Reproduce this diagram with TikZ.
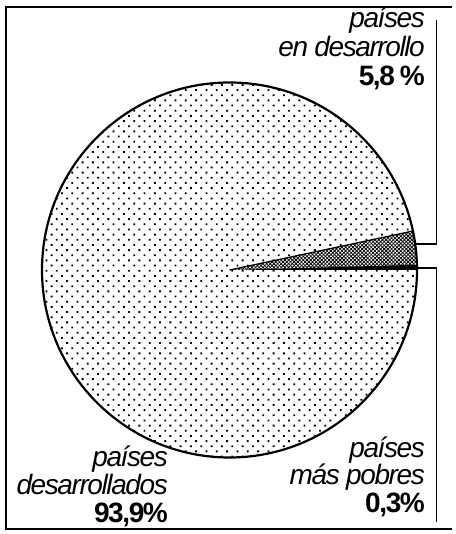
\documentclass[tikz,border=0pt]{standalone}
\usepackage{fontspec}
\setmainfont{Liberation Sans}
\newfontfamily\lblfont[LetterSpace=-5]{Liberation Sans}
\usetikzlibrary{patterns,patterns.meta}
\begin{document}
\begin{tikzpicture}[x=1pt,y=1pt,
  lbl/.style={inner sep=0pt,anchor=base east,font=\lblfont\fontsize{28}{32}\selectfont\itshape},
  pct/.style={inner sep=0pt,anchor=base east,font=\lblfont\fontsize{28}{32}\selectfont\bfseries},
  frameline/.style={line width=1.6pt},
  bracket/.style={line width=1.4pt}]
\useasboundingbox (0,0) rectangle (455,534);
% frame
\draw[frameline] (452,527) -- (6,527) -- (6,5) -- (452,5);
% pie
\coordinate (c) at (229.5,264);
\fill[white] (c) circle[radius=187.5];
\fill[pattern={Dots[radius=1.3pt,distance=7.3pt,angle=45]}] (c) circle[radius=187.5];
% cross-hatched slice
\fill[white] (c) -- ++(1.5:187.5) arc[start angle=1.5,end angle=12,radius=187.5] -- cycle;
\fill[pattern={Lines[angle=45,distance=2.6pt,line width=0.8pt]}] (c) -- ++(1.5:187.5) arc[start angle=1.5,end angle=12,radius=187.5] -- cycle;
\fill[pattern={Lines[angle=-45,distance=2.6pt,line width=0.8pt]}] (c) -- ++(1.5:187.5) arc[start angle=1.5,end angle=12,radius=187.5] -- cycle;
\draw[line width=1.2pt] (c) -- ++(12:187.5);
% black slice
\fill[black] (c) -- ++(0:187.5) arc[start angle=0,end angle=1.6,radius=187.5] -- cycle;
\draw[line width=2.2pt] (c) circle[radius=187.5];
% brackets
\coordinate (ua) at (415.5,290);
\coordinate (ub) at (436.5,290);
\coordinate (uc) at (436.5,514);
\coordinate (la) at (417,266);
\coordinate (lb) at (436.5,266);
\coordinate (lc) at (436.5,12);
\draw[bracket] (ua) -- (ub) -- (uc);
\draw[bracket] (la) -- (lb) -- (lc);
% labels
\node[lbl] (u1) at (425,506) {países};
\node[lbl] (u2) at (425,477) {en desarrollo};
\node[pct] (u3) at (425,448) {5,8\hspace{5pt}\%};
\node[lbl] (l1) at (168,67) {países};
\node[lbl] (l2) at (168,39) {desarrollados};
\node[pct] (l3) at (168,12) {93,9\%};
\node[lbl] (r1) at (425,76) {países};
\node[lbl] (r2) at (425,49) {más pobres};
\node[pct] (r3) at (425,21) {0,3\%};
\end{tikzpicture}
\end{document}
